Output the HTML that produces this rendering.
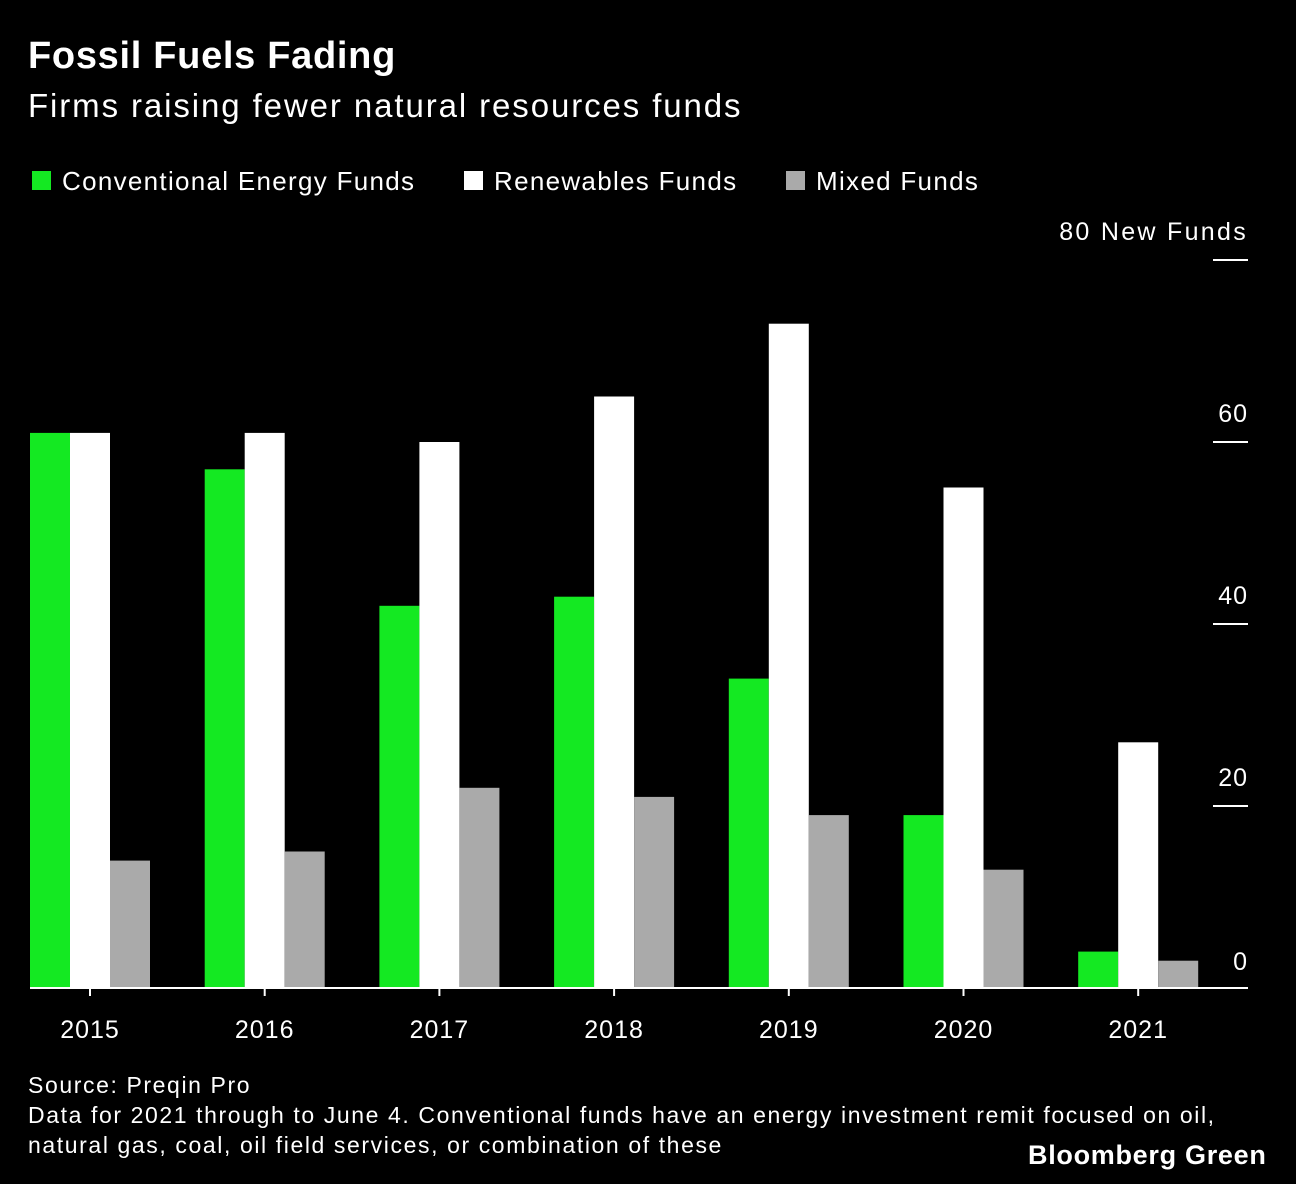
<!DOCTYPE html>
<html><head><meta charset="utf-8">
<style>
body{margin:0;background:#000;width:1296px;height:1184px;overflow:hidden;font-family:"Liberation Sans",Arial,sans-serif;color:#fff}
.t{position:absolute;white-space:nowrap}
</style></head><body>
<div class="t" style="left:28px;top:35px;font-size:38px;font-weight:bold;letter-spacing:0.7px">Fossil Fuels Fading</div>
<div class="t" style="left:28px;top:87px;font-size:33px;letter-spacing:1.9px">Firms raising fewer natural resources funds</div>
<div>
<div class="t" style="left:32px;top:166px;font-size:26px;letter-spacing:1.3px"><span style="display:inline-block;width:19px;height:19px;background:#14e922;margin-right:11px"></span>Conventional Energy Funds</div>
<div class="t" style="left:464px;top:166px;font-size:26px;letter-spacing:1.3px"><span style="display:inline-block;width:19px;height:19px;background:#fff;margin-right:11px"></span>Renewables Funds</div>
<div class="t" style="left:786px;top:166px;font-size:26px;letter-spacing:1.3px"><span style="display:inline-block;width:19px;height:19px;background:#aaa;margin-right:11px"></span>Mixed Funds</div>
</div>
<svg id="chart" width="1296" height="1184" style="position:absolute;left:0;top:0"></svg>
<div class="t" style="left:28px;top:1070px;font-size:23px;line-height:30px;letter-spacing:1.6px">Source: Preqin Pro<br>Data for 2021 through to June 4. Conventional funds have an energy investment remit focused on oil,<br>natural gas, coal, oil field services, or combination of these</div>
<div class="t" style="left:1028px;top:1140px;font-size:27px;font-weight:bold;letter-spacing:0.7px">Bloomberg Green</div>
<script>
const years=["2015","2016","2017","2018","2019","2020","2021"];
const conventional=[61,57,42,43,34,19,4];
const renewables=[61,61,60,65,73,55,27];
const mixed=[14,15,22,21,19,13,3];
const ticks=[0,20,40,60,80];
const ns="http://www.w3.org/2000/svg";
const svg=document.getElementById('chart');
const base=988, ppu=9.1;
const y=v=>base-v*ppu;
const gx=i=>90+i*174.7;
function mk(t,a){const e=document.createElementNS(ns,t);for(const k in a)e.setAttribute(k,a[k]);svg.appendChild(e);return e;}
const series=[[conventional,"#14e922",-60,"conventional"],[renewables,"#ffffff",-20,"renewables"],[mixed,"#aaaaaa",20,"mixed"]];
years.forEach((yr,i)=>{
  series.forEach(s=>{
    const v=s[0][i];
    const r=mk('rect',{x:gx(i)+s[2],y:y(v),width:40,height:v*ppu,fill:s[1]});
    
    
  });
  const tk=mk('line',{x1:gx(i),x2:gx(i),y1:base,y2:base+8,stroke:'#fff','stroke-width':2});
  
  
  const t=mk('text',{x:gx(i),y:1038,'text-anchor':'middle','font-size':25,'letter-spacing':1,fill:'#fff'});
  t.textContent=yr;
  
  
});
const ax=mk('line',{x1:30,x2:1248,y1:base,y2:base,stroke:'#fff','stroke-width':2});


ticks.forEach(v=>{
  if(v>0){
    const l=mk('line',{x1:1213,x2:1248,y1:y(v),y2:y(v),stroke:'#fff','stroke-width':2});
    
    
  }
  const t=mk('text',{x:1248,y:v===0?y(v)-18:y(v)-20,'text-anchor':'end','font-size':25,'letter-spacing':v===80?2.3:1,fill:'#fff'});
  t.textContent=v===80?'80 New Funds':String(v);
  
  
});
</script>
</body></html>
